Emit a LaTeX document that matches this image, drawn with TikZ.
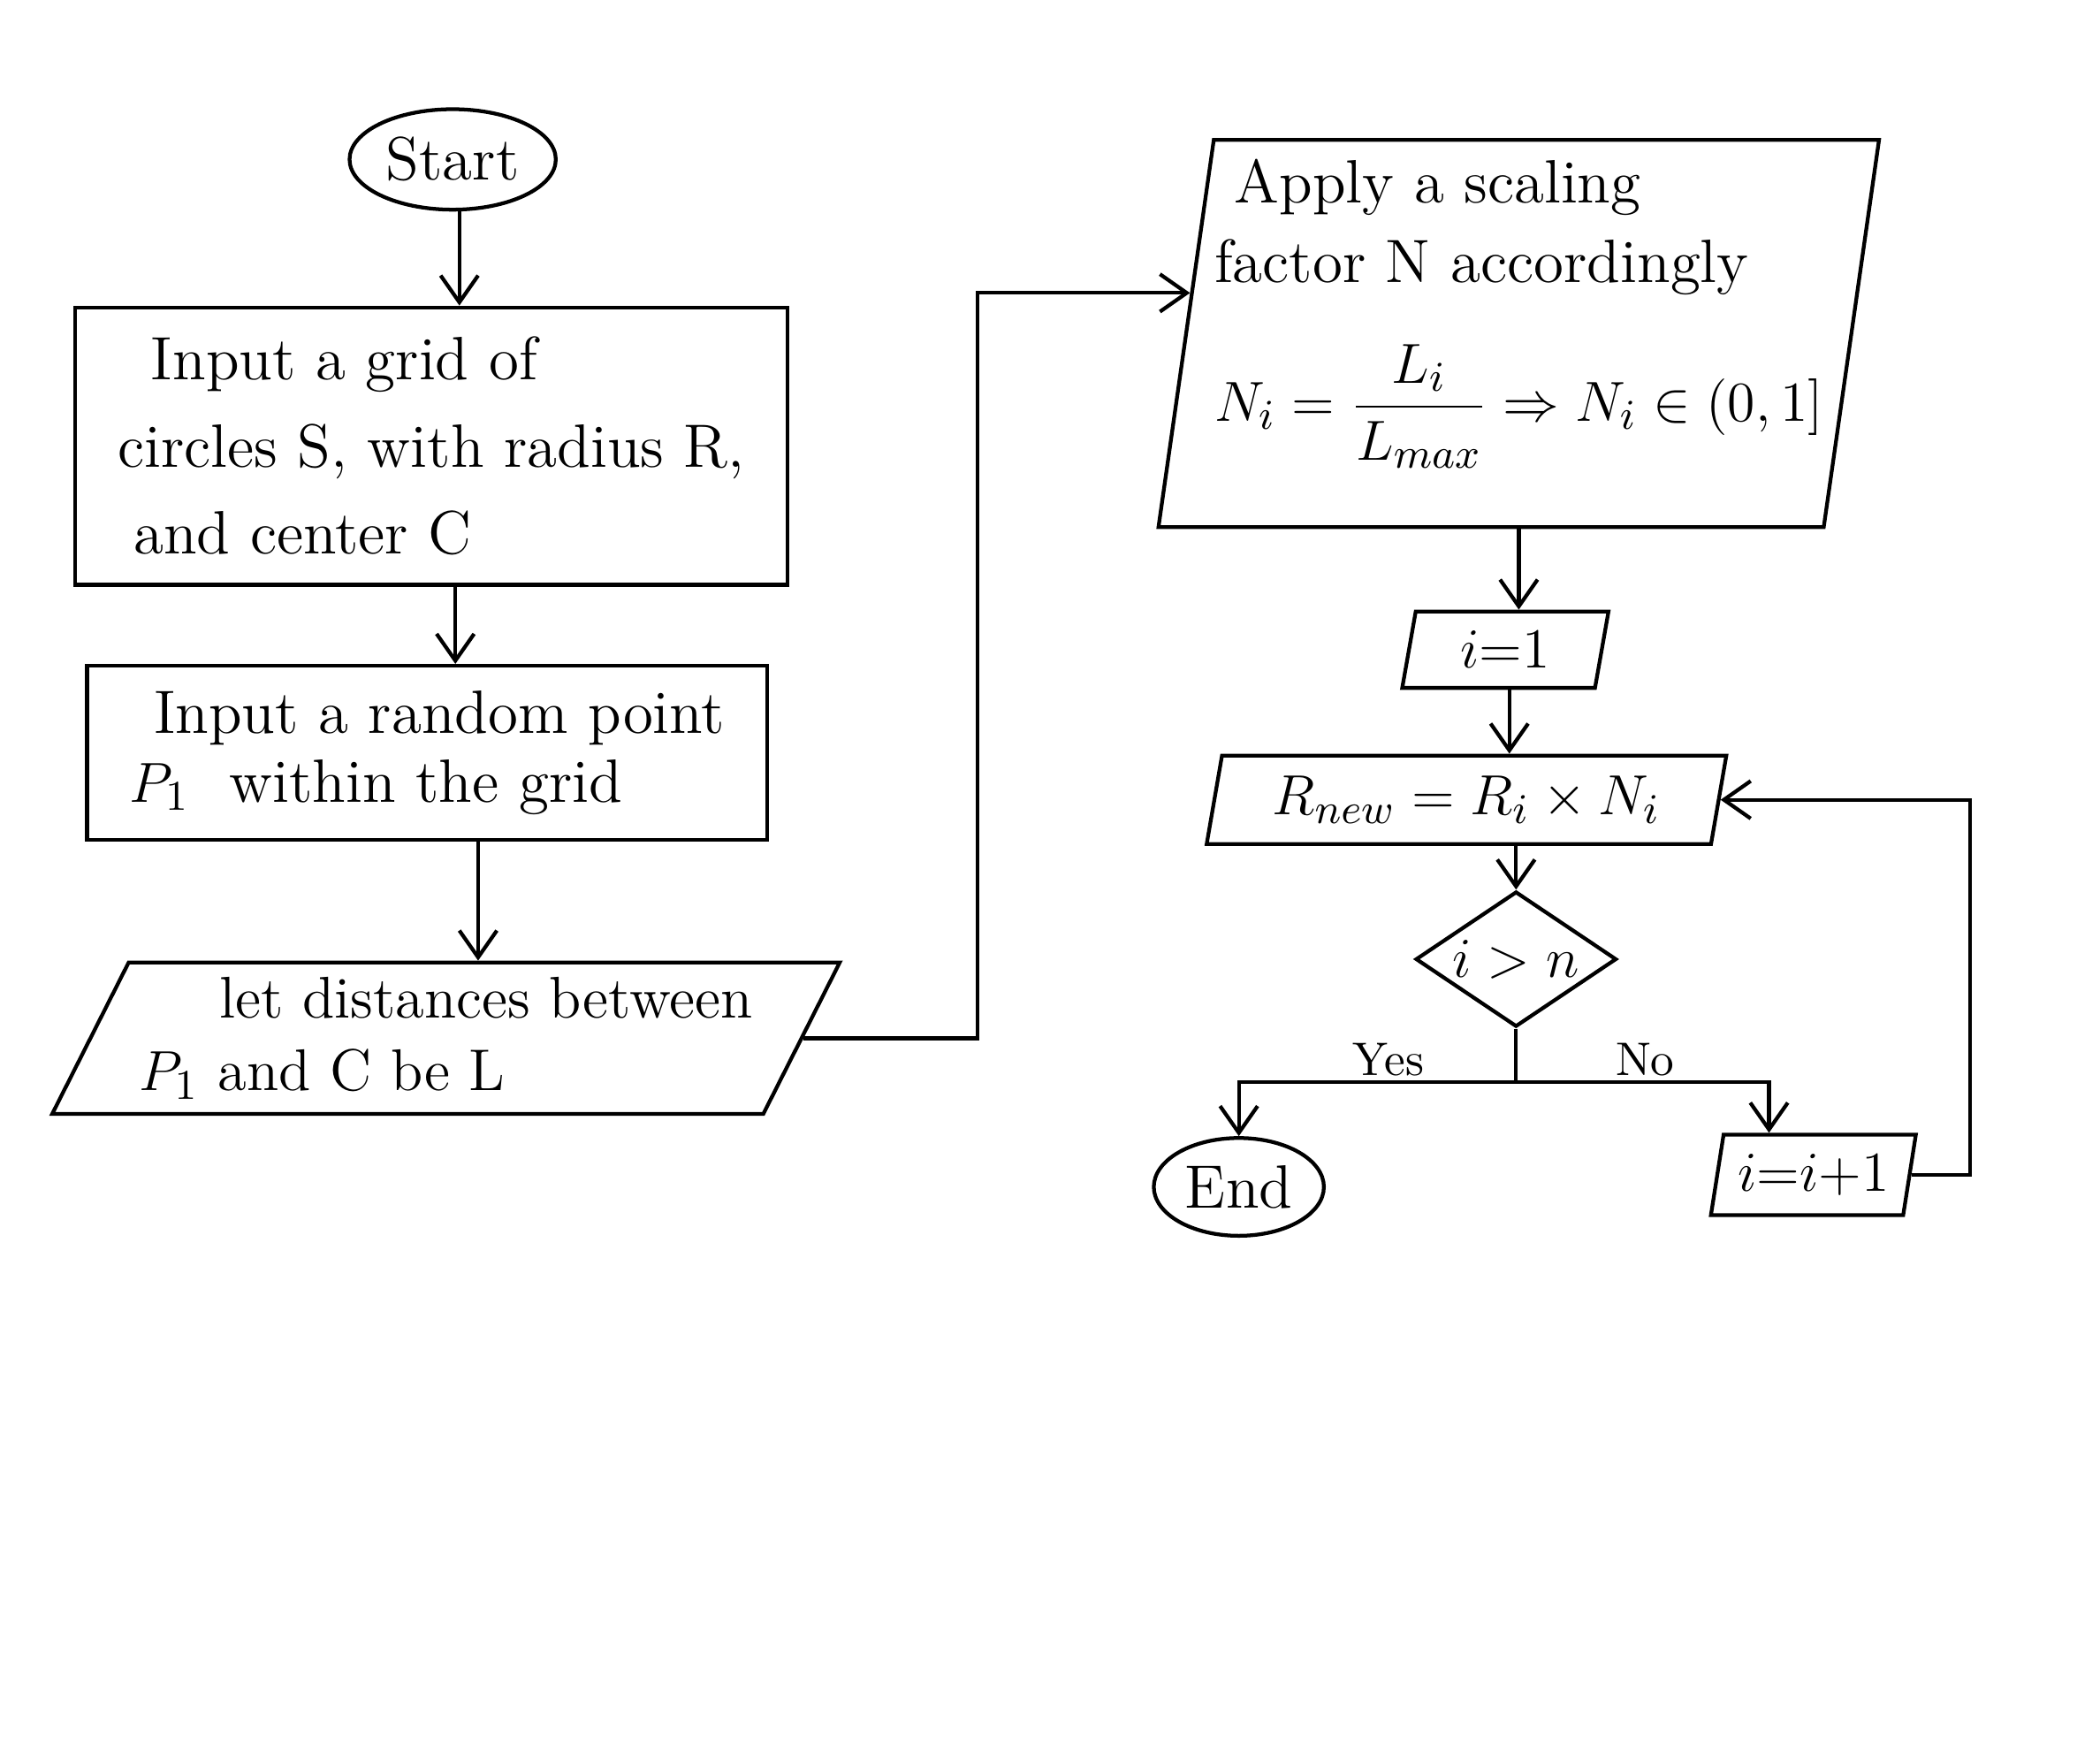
\documentclass[tikz,border=0pt]{standalone}
\usetikzlibrary{shapes.geometric,arrows.meta,calc}
\begin{document}
\begin{tikzpicture}[x=0.1mm,y=-0.1mm,
  base/.style={draw, line width=0.8pt, font=\fontsize{13}{18.5}\selectfont, inner sep=0pt},
  procbox/.style={base, rectangle},
  iobox/.style={base, trapezium, trapezium stretches body},
  termbox/.style={base, ellipse},
  decbox/.style={base, diamond, aspect=1.5},
  arr/.style={line width=0.8pt, -{Straight Barb[length=2mm,width=2.8mm]}},
  plain/.style={line width=0.8pt},
  lbl/.style={font=\fontsize{10}{12}\selectfont, inner sep=1pt}]
\useasboundingbox (0,0) rectangle (1568,1303);

% left column
\node[termbox, minimum width=15.4mm, minimum height=7.5mm] (start) at (338,119) {Start};
\node[procbox, minimum width=53.2mm, minimum height=20.7mm, align=left] (box1) at (322,333)
  {\hspace{2.5mm}Input a grid of\\circles S, with radius R,\\\hspace{1.2mm}and center C};
\node[procbox, minimum width=50.8mm, minimum height=13mm, align=left,
      font=\fontsize{13}{14.5}\selectfont] (box2) at (319,562)
  {\hspace{1.8mm}Input a random point\\$P_1$\ \ within the grid};
\node[iobox, trapezium left angle=58, trapezium right angle=122,
      minimum width=58.8mm, minimum height=11.3mm, align=left,
      font=\fontsize{12.5}{15.5}\selectfont] (para3) at (333,775)
  {\hspace{6mm}let distances between\\$P_1$ and C be L};

% right column
\node[iobox, trapezium left angle=81, trapezium right angle=99,
      minimum width=53.8mm, minimum height=28.9mm, align=left,
      font=\fontsize{13}{17}\selectfont] (box4) at (1134,249)
  {\hspace{1.5mm}Apply a scaling\\factor N accordingly\\[3.3mm]
   $\displaystyle N_i = \frac{L_i}{L_{max}} \Rightarrow N_i \in (0,1]$\rule[-6.5mm]{0pt}{1mm}};
\node[iobox, trapezium left angle=70, trapezium right angle=110,
      minimum width=15.4mm, minimum height=5.7mm] (i1) at (1124,485) {$i{=}1$};
\node[iobox, trapezium left angle=72, trapezium right angle=108,
      minimum width=38.8mm, minimum height=6.6mm] (rnew) at (1095,597)
  {$R_{new} = R_i \times N_i$};
\node[decbox, minimum width=15mm, minimum height=10.1mm] (dec) at (1132,716) {$i > n$};
\node[termbox, minimum width=12.7mm, minimum height=7.3mm] (end) at (925,886) {End};
\node[iobox, trapezium left angle=73, trapezium right angle=107,
      minimum width=15.3mm, minimum height=6mm] (inc) at (1354,877) {$i{=}i{+}1$};

% connectors
\draw[arr] ([xshift=0.5mm]start.south) -- ([xshift=0.5mm]start.south |- box1.north);
\draw[arr] ([xshift=1.8mm]box1.south) -- ([xshift=1.8mm]box1.south |- box2.north);
\draw[arr] ([xshift=3.8mm]box2.south) -- ([xshift=3.8mm]box2.south |- para3.north);

\coordinate (j1) at (730,0);
\coordinate (b4in) at ($(box4.bottom left corner)!0.604!(box4.top left corner)$);
\draw[arr] (para3.east) -| (j1 |- b4in) -- (b4in);

\draw[arr] (box4.south) -- (box4.south |- i1.north);
\draw[arr] ([xshift=0.3mm]i1.south) -- ([xshift=0.3mm]i1.south |- rnew.north);
\draw[arr] (dec.north |- rnew.south) -- (dec.north);

\coordinate (split) at ($(dec.south)+(0,-4mm)$);
\coordinate (incin) at ($(inc.top left corner)!0.24!(inc.top right corner)$);
\draw[plain] (dec.south) -- (split);
\draw[arr] (split) -| (end.north) node[lbl, pos=0.23, above] {Yes};
\draw[arr] (split) -| (incin) node[lbl, pos=0.255, above] {No};
\draw[arr] (inc.east) -- ++(4.4mm,0) |- (rnew.east);
\end{tikzpicture}
\end{document}
